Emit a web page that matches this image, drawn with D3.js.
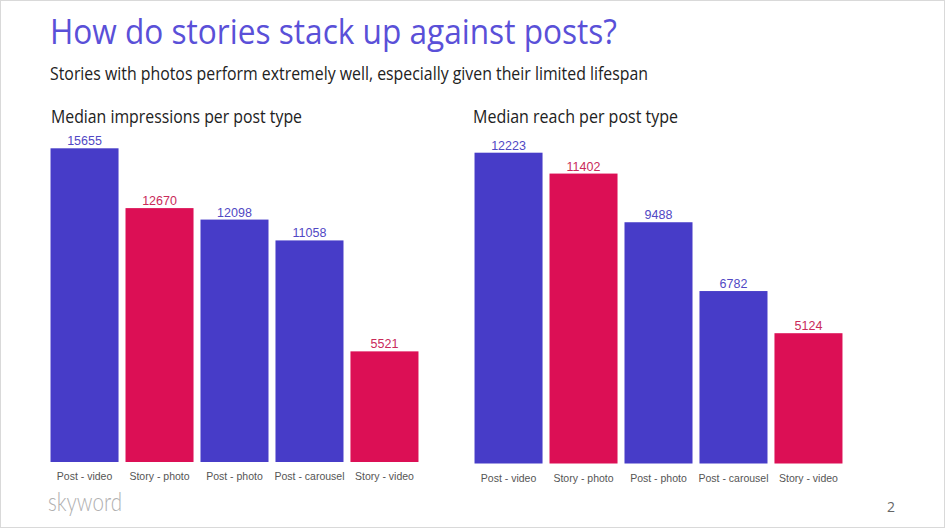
<!DOCTYPE html>
<html>
<head>
<meta charset="utf-8">
<script src="https://cdn.jsdelivr.net/npm/d3@7"></script>
<style>
  body { margin: 0; background: #fff; }
  svg { display: block; }
</style>
</head>
<body>
<div id="vis-container"></div>
<script>
const categories = ["Post - video", "Story - photo", "Post - photo", "Post - carousel", "Story - video"];
const impressions = [15655, 12670, 12098, 11058, 5521];
const reach = [12223, 11402, 9488, 6782, 5124];
const kinds = ["post", "story", "post", "post", "story"];

const W = 945, H = 528;
const barColor = {post: "#473cc8", story: "#dc0f55"};
const labelColor = {post: "#5148c4", story: "#c92a5a"};

const svg = d3.select("#vis-container")
    .append("svg")
    .attr("width", W)
    .attr("height", H);

svg.append("rect")
    .attr("x", 0.5).attr("y", 0.5)
    .attr("width", W - 1).attr("height", H - 1)
    .attr("fill", "#fff")
    .attr("stroke", "#d9d9d9");

svg.append("text")
    .attr("x", 50).attr("y", 44)
    .attr("font-family", "Open Sans, sans-serif")
    .attr("font-size", 34)
    .attr("fill", "#5a50d8")
    .attr("textLength", 567)
    .attr("lengthAdjust", "spacingAndGlyphs")
    .text("How do stories stack up against posts?");

svg.append("text")
    .attr("x", 50).attr("y", 80)
    .attr("font-family", "Open Sans, sans-serif")
    .attr("font-size", 17.5)
    .attr("fill", "#222")
    .attr("textLength", 598)
    .attr("lengthAdjust", "spacingAndGlyphs")
    .text("Stories with photos perform extremely well, especially given their limited lifespan");

let drawChart = function(opts){
    const g = svg.append("g");
    const x = d3.scaleBand()
        .domain(categories)
        .range([opts.x0, opts.x0 + 375])
        .paddingInner(0.093)
        .paddingOuter(0.047);
    const y = d3.scaleLinear()
        .domain([0, opts.refValue])
        .range([opts.bottom, opts.refTop]);

    g.append("text")
        .attr("x", opts.titleX).attr("y", opts.titleY)
        .attr("font-family", "Open Sans, sans-serif")
        .attr("font-size", 18)
        .attr("fill", "#222")
        .attr("textLength", opts.titleLen)
        .attr("lengthAdjust", "spacingAndGlyphs")
        .text(opts.title);

    const data = categories.map((c, i) => ({cat: c, value: opts.values[i], kind: kinds[i]}));

    g.selectAll(".bar")
        .data(data)
        .enter().append("rect")
        .attr("class", "bar")
        .attr("x", d => x(d.cat))
        .attr("width", x.bandwidth())
        .attr("y", d => y(d.value))
        .attr("height", d => y(0) - y(d.value))
        .attr("fill", d => barColor[d.kind]);

    g.selectAll(".val")
        .data(data)
        .enter().append("text")
        .attr("class", "val")
        .attr("x", d => x(d.cat) + x.bandwidth() / 2)
        .attr("y", d => y(d.value) - 3)
        .attr("text-anchor", "middle")
        .attr("font-family", "Liberation Sans, Arial, sans-serif")
        .attr("font-size", 12.5)
        .attr("fill", d => labelColor[d.kind])
        .text(d => d.value);

    const axis = d3.axisBottom(x).tickSize(0).tickPadding(0);
    const ax = g.append("g")
        .attr("transform", `translate(0,${opts.bottom})`)
        .call(axis);
    ax.select(".domain").remove();
    ax.selectAll("text")
        .attr("dy", 0)
        .attr("y", opts.labelDy)
        .attr("font-family", "Liberation Sans, Arial, sans-serif")
        .attr("font-size", 10.5)
        .attr("fill", "#555");
};

drawChart({
    x0: 47, bottom: 462, refValue: 15655, refTop: 148.3,
    values: impressions, labelDy: 18,
    title: "Median impressions per post type", titleX: 51, titleY: 122.5, titleLen: 251
});

drawChart({
    x0: 471, bottom: 463.5, refValue: 12223, refTop: 152.7,
    values: reach, labelDy: 18.8,
    title: "Median reach per post type", titleX: 473, titleY: 122.5, titleLen: 205
});

svg.append("text")
    .attr("x", 48).attr("y", 511)
    .attr("font-family", "Lato, sans-serif")
    .attr("font-weight", 300)
    .attr("font-size", 25)
    .attr("fill", "#b0b0b0")
    .attr("textLength", 74)
    .attr("lengthAdjust", "spacingAndGlyphs")
    .text("skyword");

svg.append("text")
    .attr("x", 887).attr("y", 512)
    .attr("font-family", "Open Sans, sans-serif")
    .attr("font-size", 14)
    .attr("fill", "#666")
    .text("2");
</script>
</body>
</html>
